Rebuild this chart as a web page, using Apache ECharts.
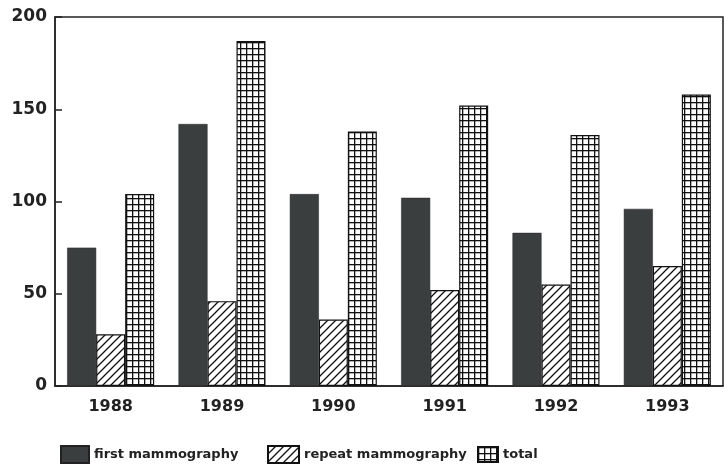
<!DOCTYPE html>
<html>
<head>
<meta charset="utf-8">
<script src="https://cdn.jsdelivr.net/npm/echarts@6/dist/echarts.min.js"></script>
<style>html,body{margin:0;padding:0;background:#fff}#c{width:724px;height:475px}</style>
</head>
<body>
<div id="c"></div>
<script>
var years = ['1988', '1989', '1990', '1991', '1992', '1993'];
var firstMammography = [75, 142, 104, 102, 83, 96];
var repeatMammography = [28, 46, 36, 52, 55, 65];
var total = [104, 187, 138, 152, 136, 158];
var yTicks = [0, 50, 100, 150, 200];

function hatch() {
  var c = document.createElement('canvas');
  c.width = 8; c.height = 8;
  var g = c.getContext('2d');
  g.fillStyle = '#fff'; g.fillRect(0, 0, 8, 8);
  g.strokeStyle = '#111'; g.lineWidth = 1.3;
  g.beginPath();
  g.moveTo(-1, 9); g.lineTo(9, -1);
  g.moveTo(-1, 1); g.lineTo(1, -1);
  g.moveTo(7, 9); g.lineTo(9, 7);
  g.stroke();
  return c;
}
function gridPat() {
  var c = document.createElement('canvas');
  c.width = 6; c.height = 6;
  var g = c.getContext('2d');
  g.fillStyle = '#fff'; g.fillRect(0, 0, 6, 6);
  g.fillStyle = '#111';
  g.fillRect(0, 0, 6, 1.3);
  g.fillRect(0, 0, 1.3, 6);
  return c;
}
var font = 'DejaVu Sans';
var chart = echarts.init(document.getElementById('c'));
var textStyle = {fontFamily: font, fontWeight: 'bold', fontSize: 13, color: '#222'};
chart.setOption({
  animation: false,
  grid: {left: 55, right: 1, top: 17, bottom: 89, show: true, borderColor: '#222', borderWidth: 1.5},
  xAxis: {
    type: 'category', data: years,
    axisLine: {lineStyle: {color: '#222', width: 1.5}},
    axisTick: {show: false},
    axisLabel: {fontFamily: font, fontWeight: 'bold', fontSize: 16, color: '#222', margin: 13}
  },
  yAxis: {
    type: 'value', min: yTicks[0], max: yTicks[yTicks.length - 1], interval: 50,
    axisLine: {show: true, lineStyle: {color: '#222', width: 1.5}},
    axisTick: {show: true, inside: true, length: 7, lineStyle: {color: '#222', width: 1.5}},
    splitLine: {show: false},
    axisLabel: {fontFamily: font, fontWeight: 'bold', fontSize: 17, color: '#222', margin: 8}
  },
  legend: [
    {data: ['first mammography'], left: 60, top: 445, padding: 0, icon: 'rect', itemWidth: 28, itemHeight: 17, textStyle: textStyle},
    {data: ['repeat mammography'], left: 267, top: 445, padding: 0, icon: 'rect', itemWidth: 31, itemHeight: 17, textStyle: textStyle},
    {data: ['total'], left: 477, top: 446, padding: 0, icon: 'rect', itemWidth: 20, itemHeight: 15, textStyle: textStyle}
  ],
  series: [
    {name: 'first mammography', type: 'bar', data: firstMammography, barWidth: 29, barGap: '0%',
     itemStyle: {color: '#3b3e3e', borderColor: '#222', borderWidth: 0.5}},
    {name: 'repeat mammography', type: 'bar', data: repeatMammography, barWidth: 29, barGap: '0%',
     itemStyle: {color: {image: hatch(), repeat: 'repeat'}, borderColor: '#111', borderWidth: 1.2}},
    {name: 'total', type: 'bar', data: total, barWidth: 29, barGap: '0%',
     itemStyle: {color: {image: gridPat(), repeat: 'repeat'}, borderColor: '#111', borderWidth: 1.2}}
  ]
});
</script>
</body>
</html>
